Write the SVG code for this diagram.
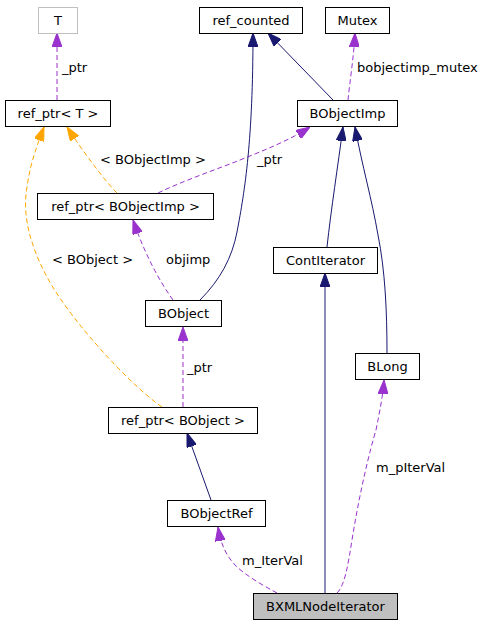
<svg xmlns="http://www.w3.org/2000/svg" width="489" height="627" viewBox="0 0 489 627">
<style>
.box{fill:#ffffff;stroke:#000000;stroke-width:1}
.gray{fill:#ffffff;stroke:#bfbfbf;stroke-width:1}
.main{fill:#bfbfbf;stroke:#000000;stroke-width:1}
text{font-family:"DejaVu Sans",sans-serif;font-size:13px;fill:#000000}
.c{text-anchor:middle}
.inh{fill:none;stroke:#191970;stroke-width:1;marker-end:url(#aN)}
.use{fill:none;stroke:#9a32cd;stroke-width:1;stroke-dasharray:5,3;marker-end:url(#aP)}
.tpl{fill:none;stroke:#ffa500;stroke-width:1;stroke-dasharray:5,3;marker-end:url(#aO)}
</style>
<defs>
<marker id="aN" viewBox="0 0 14 10" refX="14" refY="5" markerWidth="14" markerHeight="10" markerUnits="userSpaceOnUse" orient="auto"><path d="M0,0 L14,5 L0,10 z" fill="#191970" stroke="#191970"/></marker>
<marker id="aP" viewBox="0 0 14 10" refX="14" refY="5" markerWidth="14" markerHeight="10" markerUnits="userSpaceOnUse" orient="auto"><path d="M0,0 L14,5 L0,10 z" fill="#9a32cd" stroke="#9a32cd"/></marker>
<marker id="aO" viewBox="0 0 14 10" refX="14" refY="5" markerWidth="14" markerHeight="10" markerUnits="userSpaceOnUse" orient="auto"><path d="M0,0 L14,5 L0,10 z" fill="#ffa500" stroke="#ffa500"/></marker>
</defs>
<g id="connectors">
<path class="use" d="M57,100 L57,33"/>
<text x="62" y="72">_ptr</text>
<path class="tpl" d="M117,193 C104,180 82,150 67,127"/>
<text x="100" y="164">&lt; BObjectImp &gt;</text>
<path class="tpl" d="M162,407 C130,385 70,320 47,277 C30,245 22,215 27,187 C30,165 36,148 44,127"/>
<text x="52" y="264">&lt; BObject &gt;</text>
<path class="use" d="M158,193 C185,180 215,170 240,160 C265,150 290,140 310,127"/>
<text x="257" y="164">_ptr</text>
<path class="inh" d="M200,300 C220,280 232,258 237,232 C245,190 253,140 253,33"/>
<path class="inh" d="M333,100 L268,33"/>
<path class="use" d="M348,100 C350,80 354,55 355,33"/>
<text x="357" y="72">bobjectimp_mutex</text>
<path class="use" d="M173,300 C160,282 145,255 133,220"/>
<text x="166" y="264">objimp</text>
<path class="use" d="M183,407 L183,327"/>
<text x="187" y="372">_ptr</text>
<path class="inh" d="M211,500 L187,433"/>
<path class="inh" d="M327,247 C331,210 338,165 343,127"/>
<path class="inh" d="M387,353 C387,310 385,270 378,235 C372,200 362,165 355,127"/>
<path class="inh" d="M325,593 L325,273"/>
<path class="use" d="M337,593 C345,585 348,565 352,540 C360,490 370,450 376,430 C380,410 383,395 384,380"/>
<text x="376" y="472">m_pIterVal</text>
<path class="use" d="M277,593 C262,585 245,575 235,565 C226,555 221,545 218,527"/>
<text x="242" y="565">m_IterVal</text>
</g>
<g id="node-T"><rect class="gray" x="38.500" y="7.500" width="39" height="26"/><text class="c" x="58" y="24.500">T</text></g>
<g id="node-ref_counted"><rect class="box" x="199.500" y="7.500" width="103" height="26"/><text class="c" x="251" y="24.500">ref_counted</text></g>
<g id="node-Mutex"><rect class="box" x="325.500" y="7.500" width="64" height="26"/><text class="c" x="357.500" y="24.500">Mutex</text></g>
<g id="node-ref_ptr_T"><rect class="box" x="5.500" y="100.500" width="105" height="26"/><text class="c" x="58" y="117.500">ref_ptr&lt; T &gt;</text></g>
<g id="node-BObjectImp"><rect class="box" x="297.500" y="100.500" width="100" height="26"/><text class="c" x="347.500" y="117.500">BObjectImp</text></g>
<g id="node-ref_ptr_BObjectImp"><rect class="box" x="37.500" y="193.500" width="176" height="26"/><text class="c" x="125.500" y="210.500">ref_ptr&lt; BObjectImp &gt;</text></g>
<g id="node-ContIterator"><rect class="box" x="273.500" y="247.500" width="104" height="26"/><text class="c" x="325.500" y="264.500">ContIterator</text></g>
<g id="node-BObject"><rect class="box" x="145.500" y="300.500" width="76" height="26"/><text class="c" x="183.500" y="317.500">BObject</text></g>
<g id="node-BLong"><rect class="box" x="355.500" y="353.500" width="64" height="26"/><text class="c" x="387.500" y="370.500">BLong</text></g>
<g id="node-ref_ptr_BObject"><rect class="box" x="108.500" y="407.500" width="149" height="26"/><text class="c" x="183" y="424.500">ref_ptr&lt; BObject &gt;</text></g>
<g id="node-BObjectRef"><rect class="box" x="167.500" y="500.500" width="98" height="26"/><text class="c" x="216.500" y="517.500">BObjectRef</text></g>
<g id="node-BXMLNodeIterator"><rect class="main" x="253.500" y="593.500" width="144" height="26"/><text class="c" x="325.500" y="610.500">BXMLNodeIterator</text></g>
</svg>
